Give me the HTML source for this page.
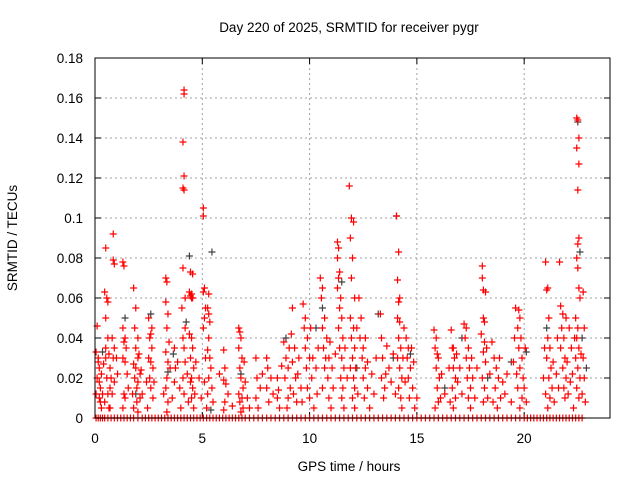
<!DOCTYPE html>
<html><head><meta charset="utf-8"><style>
html,body{margin:0;padding:0;background:#fff}
svg{display:block;font-family:"Liberation Sans",sans-serif}
</style></head><body>
<svg id="chart" width="640" height="480" xmlns="http://www.w3.org/2000/svg">
<rect width="640" height="480" fill="#fff"/>
<text x="349" y="32" font-size="13.5" text-anchor="middle">Day 220 of 2025, SRMTID for receiver pygr</text>
<text x="349" y="471" font-size="13.5" text-anchor="middle">GPS time / hours</text>
<text x="17" y="238" font-size="13.5" text-anchor="middle" transform="rotate(-90 17 238)">SRMTID / TECUs</text>
<g id="grid"></g>
<g id="ticks"></g>
<g id="marks"></g>
<rect x="95" y="58" width="515" height="360" fill="none" stroke="#000" stroke-width="1"/>
</svg>
<script>
const xTicks=[0,5,10,15,20];
const yTicks=[0,0.02,0.04,0.06,0.08,0.1,0.12,0.14,0.16,0.18];
const yTickLabels=["0","0.02","0.04","0.06","0.08","0.1","0.12","0.14","0.16","0.18"];
const redPoints=[
[0.1,0.046],[0.15,0.03],[0.2,0.025],[0.1,0.02],[0.25,0.015],[0.2,0.01],[0.3,0.005],[0.15,0.028],[0.3,0.022],[0.05,0.012],
[0.5,0.085],[0.45,0.063],[0.55,0.06],[0.5,0.05],[0.6,0.04],[0.5,0.03],[0.55,0.02],[0.6,0.012],[0.45,0.008],[0.65,0.005],[0.5,0.035],[0.6,0.058],[0.7,0.025],[0.7,0.015],
[0.85,0.092],[0.85,0.079],[0.9,0.077],[0.8,0.04],[0.9,0.035],[0.85,0.03],[0.9,0.018],[0.8,0.012],
[1.3,0.078],[1.35,0.076],[1.3,0.045],[1.4,0.04],[1.35,0.038],[1.3,0.03],[1.4,0.028],[1.35,0.012],[1.4,0.01],[1.3,0.005],
[1.8,0.065],[1.9,0.055],[1.85,0.045],[2.0,0.04],[1.9,0.035],[2.0,0.03],[1.8,0.027],[1.9,0.025],[2.1,0.022],[1.85,0.02],[2.0,0.018],[1.95,0.015],[2.1,0.01],[1.8,0.005],[2.0,0.003],[2.05,0.032],
[2.5,0.05],[2.6,0.042],[2.55,0.04],[2.65,0.035],[2.5,0.03],[2.6,0.028],[2.7,0.025],[2.55,0.02],[2.6,0.015],[2.7,0.01],[2.65,0.045],
[3.3,0.07],[3.35,0.068],[3.3,0.058],[3.4,0.052],[3.35,0.045],[3.3,0.033],[3.4,0.028],[3.35,0.02],[3.3,0.015],[3.4,0.008],[3.35,0.003],
[3.7,0.035],[3.75,0.025],[3.7,0.018],
[4.15,0.164],[4.15,0.162],[4.1,0.138],[4.15,0.121],[4.1,0.115],[4.15,0.114],[4.1,0.075],[4.2,0.06],[4.05,0.055],[4.2,0.045],[4.1,0.04],[4.15,0.035],[4.2,0.028],[4.1,0.02],[4.15,0.012],
[4.45,0.073],[4.55,0.072],[4.4,0.063],[4.5,0.062],[4.45,0.061],[4.55,0.06],[4.5,0.06],[4.4,0.042],[4.5,0.04],[4.55,0.035],[4.45,0.03],[4.6,0.025],[4.5,0.02],[4.45,0.018],[4.55,0.015],[4.5,0.01],[4.6,0.005],
[5.05,0.105],[5.05,0.101],[5.1,0.065],[5.05,0.063],[5.15,0.055],[5.1,0.05],[5.05,0.045],[5.15,0.03],[5.1,0.018],[5.2,0.005],
[5.3,0.062],[5.25,0.055],[5.3,0.052],[5.35,0.048],[5.3,0.04],[5.25,0.034],[5.35,0.03],[5.3,0.02],[5.25,0.012],
[6.0,0.034],[6.05,0.025],[6.0,0.019],[6.1,0.017],[6.05,0.008],[6.0,0.004],
[6.7,0.045],[6.75,0.043],[6.8,0.04],[6.7,0.035],[6.85,0.03],[6.75,0.025],[6.8,0.02],[6.9,0.015],[6.7,0.012],[6.85,0.01],[6.75,0.008],[6.9,0.005],[6.8,0.003],[7.0,0.018],
[7.5,0.03],[7.55,0.02],[7.5,0.01],[7.6,0.005],
[8.0,0.03],[8.05,0.025],[8.0,0.015],[8.1,0.008],
[8.5,0.02],[8.55,0.014],[8.5,0.01],[8.6,0.005],
[8.8,0.038],[8.9,0.03],[9.0,0.025],[8.85,0.02],[9.1,0.015],[9.0,0.01],[8.95,0.005],[9.2,0.055],[9.3,0.035],[9.2,0.028],[9.35,0.02],[9.25,0.012],[9.4,0.008],[9.5,0.03],[9.45,0.022],
[9.7,0.057],[9.8,0.05],[9.75,0.045],[9.9,0.04],[9.8,0.035],[10.0,0.03],[9.85,0.025],[10.1,0.02],[9.9,0.015],[10.0,0.01],[10.2,0.005],[10.15,0.03],
[10.5,0.07],[10.6,0.065],[10.55,0.06],[10.7,0.05],[10.6,0.045],[10.8,0.04],[10.65,0.035],[10.9,0.03],[10.7,0.025],[10.85,0.02],[10.6,0.015],[10.9,0.01],[11.0,0.005],[10.75,0.03],
[11.3,0.088],[11.35,0.085],[11.3,0.08],[11.4,0.073],[11.35,0.07],[11.3,0.065],[11.45,0.06],[11.4,0.055],[11.5,0.05],[11.35,0.045],[11.55,0.04],[11.4,0.035],[11.5,0.03],[11.6,0.025],[11.45,0.02],[11.55,0.015],[11.5,0.01],[11.6,0.005],
[11.85,0.116],[11.95,0.1],[12.05,0.098],[11.9,0.09],[12.0,0.08],[11.95,0.07],[12.1,0.06],[11.9,0.05],[12.05,0.045],[11.95,0.04],[12.1,0.035],[12.0,0.03],[11.9,0.025],[12.05,0.02],[12.1,0.015],[12.0,0.01],[12.1,0.005],
[12.3,0.06],[12.4,0.05],[12.35,0.04],[12.5,0.035],[12.45,0.03],[12.6,0.025],[12.5,0.02],[12.7,0.015],[12.55,0.01],[12.8,0.005],[12.7,0.028],
[13.3,0.052],[13.35,0.04],[13.4,0.03],[13.35,0.02],[13.5,0.015],[13.45,0.01],[13.6,0.036],[13.7,0.025],[13.8,0.018],
[14.05,0.101],[14.15,0.083],[14.1,0.069],[14.2,0.06],[14.15,0.058],[14.1,0.05],[14.2,0.048],[14.15,0.04],[14.25,0.035],[14.1,0.03],[14.2,0.025],[14.3,0.02],[14.15,0.015],[14.25,0.01],[14.3,0.005],
[14.5,0.04],[14.6,0.035],[14.55,0.03],[14.7,0.025],[14.6,0.02],[14.8,0.015],[14.65,0.01],[14.9,0.005],
[15.8,0.044],[15.9,0.04],[15.85,0.035],[16.0,0.03],[15.9,0.025],[16.05,0.02],[15.95,0.015],[16.1,0.01],[15.85,0.005],
[16.6,0.044],[16.7,0.035],[16.65,0.035],[16.75,0.03],[16.7,0.025],[16.8,0.02],[16.65,0.015],[16.8,0.01],[16.7,0.005],
[17.2,0.047],[17.3,0.045],[17.25,0.04],[17.4,0.035],[17.3,0.03],[17.45,0.025],[17.35,0.02],[17.5,0.015],[17.4,0.01],[17.5,0.005],
[18.05,0.076],[18.05,0.07],[18.1,0.064],[18.2,0.063],[18.1,0.05],[18.15,0.048],[18.0,0.042],[18.15,0.038],[18.1,0.033],[18.2,0.028],[18.05,0.02],[18.15,0.015],[18.1,0.008],
[18.5,0.038],[18.6,0.03],[18.7,0.025],[18.8,0.02],[18.65,0.015],[18.9,0.01],[18.75,0.005],[19.0,0.018],
[19.6,0.055],[19.75,0.054],[19.8,0.05],[19.7,0.045],[19.85,0.04],[19.75,0.035],[19.9,0.03],[19.8,0.025],[19.95,0.02],[19.7,0.015],[19.9,0.01],[19.8,0.005],
[21.0,0.078],[21.1,0.065],[21.05,0.064],[21.15,0.05],[21.1,0.04],[21.2,0.035],[21.05,0.03],[21.25,0.025],[21.15,0.02],[21.3,0.015],[21.2,0.01],[21.1,0.005],
[21.65,0.078],[21.7,0.056],[21.8,0.052],[21.75,0.045],[21.85,0.04],[21.7,0.035],[21.9,0.03],[21.8,0.025],[21.95,0.02],[21.85,0.015],[21.9,0.01],
[22.45,0.15],[22.5,0.149],[22.55,0.14],[22.45,0.135],[22.55,0.127],[22.5,0.114],[22.55,0.09],[22.5,0.087],[22.45,0.08],[22.5,0.075],[22.55,0.065],[22.6,0.06],[22.4,0.05],[22.5,0.045],[22.45,0.04],[22.55,0.035],[22.4,0.03],[22.5,0.025],[22.6,0.02],[22.45,0.015],[22.55,0.01],[22.3,0.005],
[22.75,0.063],[22.8,0.045],[22.75,0.03],[22.8,0.02],[22.7,0.012],[22.2,0.035],[22.1,0.045],[22.25,0.022]
];
const redLowPoints=[
[0.05,0.033],[0.2,0.018],[0.25,0.008],[0.35,0.012],[0.4,0.027],[0.65,0.032],[0.75,0.02],[0.7,0.005],[1.0,0.03],[1.05,0.022],
[1.45,0.035],[1.5,0.022],[1.55,0.015],[1.75,0.012],[1.95,0.008],[2.15,0.024],[2.2,0.012],[2.4,0.018],[2.45,0.005],[2.75,0.018],
[3.2,0.012],[3.45,0.038],[3.5,0.025],[3.6,0.01],[3.85,0.028],[3.95,0.015],[4.0,0.005],[4.3,0.022],[4.35,0.008],[4.65,0.012],
[4.7,0.028],[4.85,0.02],[4.95,0.01],[5.4,0.025],[5.45,0.015],[5.5,0.008],[5.8,0.022],[6.2,0.012],[6.4,0.006],[6.95,0.028],
[7.1,0.01],[7.2,0.005],[7.7,0.015],[7.8,0.022],[8.2,0.02],[8.3,0.012],[8.7,0.026],[9.05,0.035],[9.15,0.042],[9.6,0.015],
[9.65,0.008],[10.05,0.045],[10.3,0.025],[10.35,0.012],[10.4,0.035],[10.95,0.038],[11.05,0.025],[11.1,0.015],[11.2,0.032],[11.65,0.035],
[11.75,0.02],[12.15,0.025],[12.2,0.045],[12.25,0.012],[12.6,0.04],[12.9,0.022],[13.0,0.012],[13.1,0.03],[13.55,0.022],[13.9,0.032],
[14.0,0.012],[14.35,0.03],[14.4,0.045],[14.45,0.018],[14.75,0.035],[14.85,0.028],[15.0,0.01],[15.95,0.032],[16.0,0.008],[16.15,0.022],
[16.3,0.012],[16.5,0.025],[16.55,0.008],[16.85,0.032],[16.9,0.018],[17.0,0.025],[17.1,0.012],[17.55,0.03],[17.6,0.02],[17.7,0.01],
[17.8,0.025],[18.25,0.035],[18.3,0.01],[18.4,0.022],[18.55,0.008],[18.85,0.03],[19.1,0.012],[19.2,0.022],[19.4,0.008],[19.5,0.028],
[19.55,0.04],[19.65,0.022],[20.0,0.015],[20.05,0.035],[20.1,0.008],[20.9,0.02],[20.95,0.035],[21.0,0.012],[21.35,0.028],[21.4,0.008],
[21.5,0.022],[21.55,0.04],[21.6,0.015],[21.95,0.05],[22.0,0.028],[22.05,0.012],[22.15,0.018],[22.35,0.04],[22.65,0.032],[22.85,0.008]
];
const greyPoints=[
[0.35,0.033],[1.4,0.05],[1.9,0.012],[2.6,0.052],[3.4,0.023],[3.65,0.032],[4.4,0.081],[4.25,0.048],[5.45,0.083],[5.4,0.004],
[6.8,0.022],[8.9,0.04],[10.3,0.045],[10.6,0.055],[11.5,0.068],[12.2,0.025],[13.2,0.052],[13.9,0.03],[14.05,0.101],[14.7,0.032],
[16.3,0.015],[17.1,0.04],[18.3,0.02],[19.4,0.028],[20.1,0.033],[21.05,0.045],[22.5,0.148],[22.6,0.083],[22.7,0.04],[22.9,0.025]
];
const zeroHours=[0.05,0.15,0.25,0.35,0.45,0.6,0.75,0.9,1.05,1.2,1.35,1.5,1.65,1.8,2.0,2.2,2.35,2.5,2.65,2.8,2.95,3.1,3.25,3.4,3.55,3.7,3.85,4.0,4.15,4.3,4.45,4.6,4.75,4.9,5.05,5.2,5.35,5.5,5.65,5.8,5.95,6.1,6.25,6.4,6.55,6.7,6.85,7.0,7.2,7.4,7.6,7.8,8.0,8.2,8.4,8.6,8.8,9.0,9.2,9.4,9.6,9.8,10.0,10.2,10.4,10.6,10.8,11.0,11.2,11.4,11.6,11.8,12.0,12.2,12.4,12.6,12.8,13.0,13.2,13.4,13.6,13.8,14.0,14.2,14.4,14.6,14.8,15.0,15.2,15.4,15.6,15.8,16.0,16.2,16.4,16.6,16.8,17.0,17.2,17.4,17.6,17.8,18.0,18.2,18.4,18.6,18.8,19.0,19.2,19.4,19.6,19.8,20.0,20.15,20.3,20.45,20.6,20.75,20.9,21.05,21.2,21.35,21.5,21.65,21.8,21.95,22.1,22.25,22.4,22.55,22.7];
const X0=95,X1=610,Y0=418,Y1=58;
const sx=h=>X0+h/24*(X1-X0);
const sy=v=>Y0-v/0.18*(Y0-Y1);
const NS="http://www.w3.org/2000/svg";
const grid=document.getElementById('grid'),ticks=document.getElementById('ticks'),marks=document.getElementById('marks');
function mk(tag,attrs,parent){const e=document.createElementNS(NS,tag);for(const k in attrs)e.setAttribute(k,attrs[k]);parent.appendChild(e);return e;}
xTicks.forEach(t=>{const x=sx(t);
 if(t>0){const g=mk('line',{x1:x,x2:x,y1:Y1,y2:Y0,stroke:'#a0a0a0','stroke-dasharray':'2,3'},grid);
 
 }
 const tk=mk('path',{d:`M${x},${Y0}v-6M${x},${Y1}v6`,stroke:'#000'},ticks);
 
 
 const l=mk('text',{x:x,y:443,'font-size':'13.5','text-anchor':'middle'},ticks);l.textContent=t;
 
 
});
yTicks.forEach((t,i)=>{const y=sy(t);
 if(t>0&&t<0.18){const g=mk('line',{x1:X0,x2:X1,y1:y,y2:y,stroke:'#a0a0a0','stroke-dasharray':'2,3'},grid);
 
 }
 const tk=mk('path',{d:`M${X0},${y}h6M${X1},${y}h-6`,stroke:'#000'},ticks);
 
 
 const l=mk('text',{x:83,y:y+5,'font-size':'13.5','text-anchor':'end'},ticks);l.textContent=yTickLabels[i];
 
 
});
function plus(h,v,col,name){const x=sx(h),y=sy(v);
 const p=mk('path',{d:`M${x-3.5},${y}h7M${x},${y-3.5}v7`,stroke:col,'stroke-width':'1.2'},marks);
 
 }
greyPoints.forEach(p=>plus(p[0],p[1],'#404040','grey-point'));
redPoints.forEach(p=>plus(p[0],p[1],'#ff0000','red-point'));
redLowPoints.forEach(p=>plus(p[0],p[1],'#ff0000','red-point'));
zeroHours.forEach(h=>plus(h,0,'#ff0000','zero-point'));
</script>
</body></html>
